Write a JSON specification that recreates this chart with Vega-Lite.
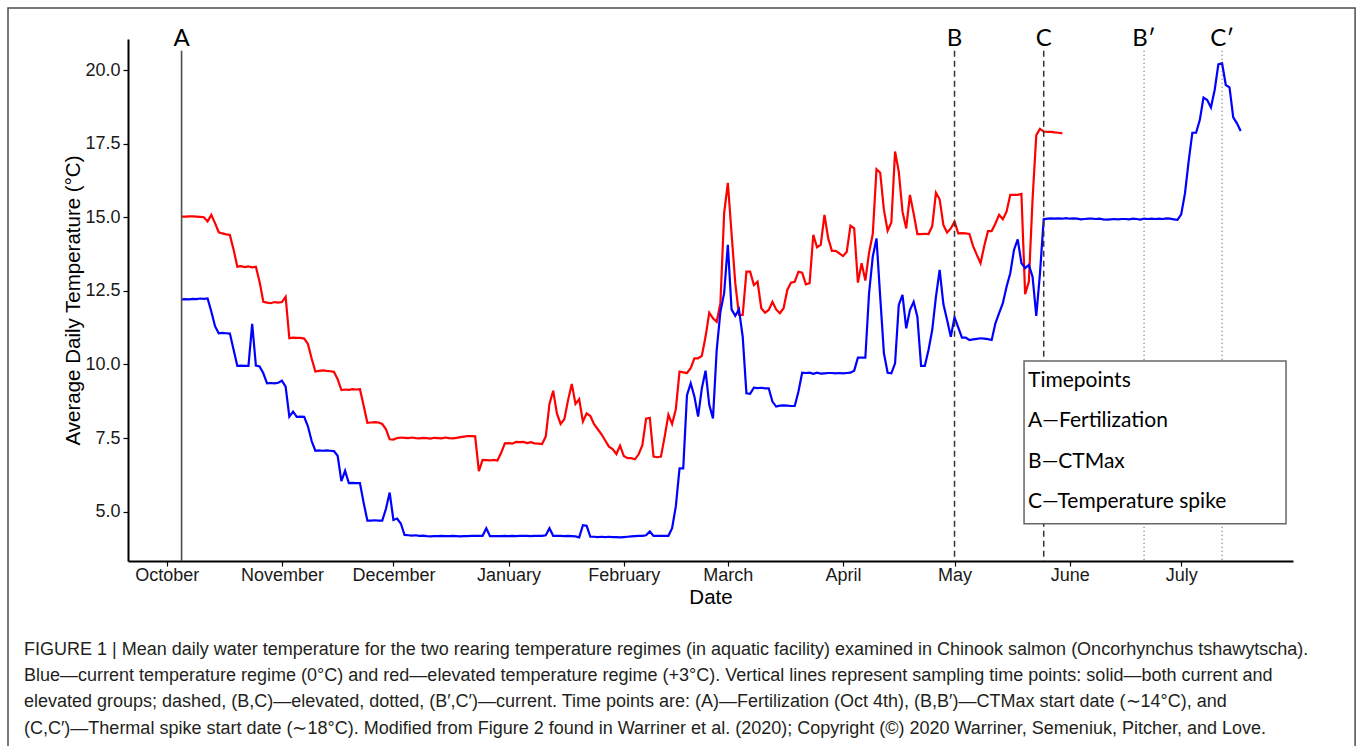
{
  "$schema": "https://vega.github.io/schema/vega-lite/v6.json",
  "width": 1165,
  "height": 522,
  "autosize": {"type": "none"},
  "padding": {"left": 128, "top": 39, "right": 67, "bottom": 185},
  "background": "white",
  "title": {
    "text": [
      "FIGURE 1 | Mean daily water temperature for the two rearing temperature regimes (in aquatic facility) examined in Chinook salmon (Oncorhynchus tshawytscha).",
      "Blue—current temperature regime (0°C) and red—elevated temperature regime (+3°C). Vertical lines represent sampling time points: solid—both current and",
      "elevated groups; dashed, (B,C)—elevated, dotted, (B′,C′)—current. Time points are: (A)—Fertilization (Oct 4th), (B,B′)—CTMax start date (∼14°C), and",
      "(C,C′)—Thermal spike start date (∼18°C). Modified from Figure 2 found in Warriner et al. (2020); Copyright (©) 2020 Warriner, Semeniuk, Pitcher, and Love."
    ],
    "orient": "bottom",
    "anchor": "start",
    "frame": "group",
    "dx": -104,
    "offset": -120,
    "font": "Liberation Sans",
    "fontSize": 18,
    "fontWeight": "normal",
    "color": "#231f20",
    "lineHeight": 26.3
  },
  "datasets": {
    "elevated": [
      {"date":"2017-10-05","temp":15.02},{"date":"2017-10-06","temp":15.02},{"date":"2017-10-07","temp":15.03},{"date":"2017-10-08","temp":15.03},{"date":"2017-10-09","temp":15.02},{"date":"2017-10-10","temp":15.01},{"date":"2017-10-11","temp":15.0},{"date":"2017-10-12","temp":14.86},{"date":"2017-10-13","temp":15.08},{"date":"2017-10-14","temp":14.8},{"date":"2017-10-15","temp":14.49},{"date":"2017-10-16","temp":14.45},{"date":"2017-10-17","temp":14.42},{"date":"2017-10-18","temp":14.4},{"date":"2017-10-19","temp":13.9},{"date":"2017-10-20","temp":13.32},{"date":"2017-10-21","temp":13.34},{"date":"2017-10-22","temp":13.31},{"date":"2017-10-23","temp":13.33},{"date":"2017-10-24","temp":13.3},{"date":"2017-10-25","temp":13.32},{"date":"2017-10-26","temp":12.8},{"date":"2017-10-27","temp":12.13},{"date":"2017-10-28","temp":12.1},{"date":"2017-10-29","temp":12.08},{"date":"2017-10-30","temp":12.12},{"date":"2017-10-31","temp":12.1},
      {"date":"2017-11-01","temp":12.12},{"date":"2017-11-02","temp":12.3},{"date":"2017-11-03","temp":10.89},{"date":"2017-11-04","temp":10.91},{"date":"2017-11-05","temp":10.9},{"date":"2017-11-06","temp":10.9},{"date":"2017-11-07","temp":10.88},{"date":"2017-11-08","temp":10.7},{"date":"2017-11-09","temp":10.2},{"date":"2017-11-10","temp":9.76},{"date":"2017-11-11","temp":9.78},{"date":"2017-11-12","temp":9.8},{"date":"2017-11-13","temp":9.78},{"date":"2017-11-14","temp":9.77},{"date":"2017-11-15","temp":9.75},{"date":"2017-11-16","temp":9.5},{"date":"2017-11-17","temp":9.13},{"date":"2017-11-18","temp":9.15},{"date":"2017-11-19","temp":9.14},{"date":"2017-11-20","temp":9.16},{"date":"2017-11-21","temp":9.15},{"date":"2017-11-22","temp":9.16},{"date":"2017-11-23","temp":8.6},{"date":"2017-11-24","temp":8.02},{"date":"2017-11-25","temp":8.03},{"date":"2017-11-26","temp":8.04},{"date":"2017-11-27","temp":8.03},{"date":"2017-11-28","temp":7.98},{"date":"2017-11-29","temp":7.8},{"date":"2017-11-30","temp":7.46},
      {"date":"2017-12-01","temp":7.45},{"date":"2017-12-02","temp":7.5},{"date":"2017-12-03","temp":7.52},{"date":"2017-12-04","temp":7.51},{"date":"2017-12-05","temp":7.5},{"date":"2017-12-06","temp":7.52},{"date":"2017-12-07","temp":7.5},{"date":"2017-12-08","temp":7.49},{"date":"2017-12-09","temp":7.51},{"date":"2017-12-10","temp":7.5},{"date":"2017-12-11","temp":7.48},{"date":"2017-12-12","temp":7.51},{"date":"2017-12-13","temp":7.5},{"date":"2017-12-14","temp":7.49},{"date":"2017-12-15","temp":7.52},{"date":"2017-12-16","temp":7.5},{"date":"2017-12-17","temp":7.49},{"date":"2017-12-18","temp":7.51},{"date":"2017-12-19","temp":7.53},{"date":"2017-12-20","temp":7.55},{"date":"2017-12-21","temp":7.57},{"date":"2017-12-22","temp":7.57},{"date":"2017-12-23","temp":7.56},{"date":"2017-12-24","temp":6.38},{"date":"2017-12-25","temp":6.76},{"date":"2017-12-26","temp":6.75},{"date":"2017-12-27","temp":6.74},{"date":"2017-12-28","temp":6.76},{"date":"2017-12-29","temp":6.74},{"date":"2017-12-30","temp":7.0},{"date":"2017-12-31","temp":7.32},
      {"date":"2018-01-01","temp":7.33},{"date":"2018-01-02","temp":7.31},{"date":"2018-01-03","temp":7.37},{"date":"2018-01-04","temp":7.36},{"date":"2018-01-05","temp":7.37},{"date":"2018-01-06","temp":7.33},{"date":"2018-01-07","temp":7.36},{"date":"2018-01-08","temp":7.32},{"date":"2018-01-09","temp":7.31},{"date":"2018-01-10","temp":7.3},{"date":"2018-01-11","temp":7.55},{"date":"2018-01-12","temp":8.66},{"date":"2018-01-13","temp":9.11},{"date":"2018-01-14","temp":8.34},{"date":"2018-01-15","temp":7.98},{"date":"2018-01-16","temp":8.14},{"date":"2018-01-17","temp":8.79},{"date":"2018-01-18","temp":9.34},{"date":"2018-01-19","temp":8.66},{"date":"2018-01-20","temp":8.82},{"date":"2018-01-21","temp":8.06},{"date":"2018-01-22","temp":8.34},{"date":"2018-01-23","temp":8.25},{"date":"2018-01-24","temp":7.97},{"date":"2018-01-25","temp":7.8},{"date":"2018-01-26","temp":7.63},{"date":"2018-01-27","temp":7.42},{"date":"2018-01-28","temp":7.21},{"date":"2018-01-29","temp":7.13},{"date":"2018-01-30","temp":6.96},{"date":"2018-01-31","temp":7.24},
      {"date":"2018-02-01","temp":6.89},{"date":"2018-02-02","temp":6.82},{"date":"2018-02-03","temp":6.82},{"date":"2018-02-04","temp":6.78},{"date":"2018-02-05","temp":6.95},{"date":"2018-02-06","temp":7.26},{"date":"2018-02-07","temp":8.16},{"date":"2018-02-08","temp":8.19},{"date":"2018-02-09","temp":6.87},{"date":"2018-02-10","temp":6.85},{"date":"2018-02-11","temp":6.87},{"date":"2018-02-12","temp":7.55},{"date":"2018-02-13","temp":8.29},{"date":"2018-02-14","temp":7.98},{"date":"2018-02-15","temp":8.48},{"date":"2018-02-16","temp":9.76},{"date":"2018-02-17","temp":9.73},{"date":"2018-02-18","temp":9.71},{"date":"2018-02-19","temp":9.87},{"date":"2018-02-20","temp":10.21},{"date":"2018-02-21","temp":10.21},{"date":"2018-02-22","temp":10.29},{"date":"2018-02-23","temp":10.94},{"date":"2018-02-24","temp":11.76},{"date":"2018-02-25","temp":11.57},{"date":"2018-02-26","temp":11.45},{"date":"2018-02-27","temp":12.08},{"date":"2018-02-28","temp":15.13},
      {"date":"2018-03-01","temp":16.17},{"date":"2018-03-02","temp":14.45},{"date":"2018-03-03","temp":12.76},{"date":"2018-03-04","temp":11.68},{"date":"2018-03-05","temp":11.68},{"date":"2018-03-06","temp":13.15},{"date":"2018-03-07","temp":13.15},{"date":"2018-03-08","temp":12.7},{"date":"2018-03-09","temp":12.81},{"date":"2018-03-10","temp":11.91},{"date":"2018-03-11","temp":11.76},{"date":"2018-03-12","temp":11.85},{"date":"2018-03-13","temp":12.13},{"date":"2018-03-14","temp":11.87},{"date":"2018-03-15","temp":11.74},{"date":"2018-03-16","temp":11.91},{"date":"2018-03-17","temp":12.53},{"date":"2018-03-18","temp":12.78},{"date":"2018-03-19","temp":12.81},{"date":"2018-03-20","temp":13.15},{"date":"2018-03-21","temp":13.12},{"date":"2018-03-22","temp":12.72},{"date":"2018-03-23","temp":12.76},{"date":"2018-03-24","temp":14.4},{"date":"2018-03-25","temp":13.98},{"date":"2018-03-26","temp":14.06},{"date":"2018-03-27","temp":15.08},{"date":"2018-03-28","temp":14.29},{"date":"2018-03-29","temp":13.86},{"date":"2018-03-30","temp":13.86},{"date":"2018-03-31","temp":13.77},
      {"date":"2018-04-01","temp":13.68},{"date":"2018-04-02","temp":13.83},{"date":"2018-04-03","temp":14.71},{"date":"2018-04-04","temp":14.62},{"date":"2018-04-05","temp":12.78},{"date":"2018-04-06","temp":13.44},{"date":"2018-04-07","temp":12.85},{"date":"2018-04-08","temp":13.8},{"date":"2018-04-09","temp":14.43},{"date":"2018-04-10","temp":16.63},{"date":"2018-04-11","temp":16.51},{"date":"2018-04-12","temp":15.25},{"date":"2018-04-13","temp":14.54},{"date":"2018-04-14","temp":14.82},{"date":"2018-04-15","temp":17.23},{"date":"2018-04-16","temp":16.55},{"date":"2018-04-17","temp":15.19},{"date":"2018-04-18","temp":14.62},{"date":"2018-04-19","temp":15.76},{"date":"2018-04-20","temp":15.13},{"date":"2018-04-21","temp":14.43},{"date":"2018-04-22","temp":14.43},{"date":"2018-04-23","temp":14.44},{"date":"2018-04-24","temp":14.43},{"date":"2018-04-25","temp":14.7},{"date":"2018-04-26","temp":15.83},{"date":"2018-04-27","temp":15.61},{"date":"2018-04-28","temp":14.74},{"date":"2018-04-29","temp":14.48},{"date":"2018-04-30","temp":14.62},
      {"date":"2018-05-01","temp":14.85},{"date":"2018-05-02","temp":14.45},{"date":"2018-05-03","temp":14.46},{"date":"2018-05-04","temp":14.45},{"date":"2018-05-05","temp":14.43},{"date":"2018-05-06","temp":14.02},{"date":"2018-05-07","temp":13.72},{"date":"2018-05-08","temp":13.44},{"date":"2018-05-09","temp":14.02},{"date":"2018-05-10","temp":14.53},{"date":"2018-05-11","temp":14.53},{"date":"2018-05-12","temp":14.79},{"date":"2018-05-13","temp":15.08},{"date":"2018-05-14","temp":14.93},{"date":"2018-05-15","temp":15.19},{"date":"2018-05-16","temp":15.76},{"date":"2018-05-17","temp":15.76},{"date":"2018-05-18","temp":15.76},{"date":"2018-05-19","temp":15.79},{"date":"2018-05-20","temp":12.39},{"date":"2018-05-21","temp":12.81},{"date":"2018-05-22","temp":15.61},{"date":"2018-05-23","temp":17.79},{"date":"2018-05-24","temp":18.0},{"date":"2018-05-25","temp":17.91},{"date":"2018-05-26","temp":17.9},{"date":"2018-05-27","temp":17.9},{"date":"2018-05-28","temp":17.88},{"date":"2018-05-29","temp":17.87},{"date":"2018-05-30","temp":17.85}
    ],
    "current": [
      {"date":"2017-10-05","temp":12.21},{"date":"2017-10-06","temp":12.22},{"date":"2017-10-07","temp":12.21},{"date":"2017-10-08","temp":12.23},{"date":"2017-10-09","temp":12.22},{"date":"2017-10-10","temp":12.24},{"date":"2017-10-11","temp":12.23},{"date":"2017-10-12","temp":12.24},{"date":"2017-10-13","temp":11.8},{"date":"2017-10-14","temp":11.3},{"date":"2017-10-15","temp":11.06},{"date":"2017-10-16","temp":11.07},{"date":"2017-10-17","temp":11.06},{"date":"2017-10-18","temp":11.05},{"date":"2017-10-19","temp":10.5},{"date":"2017-10-20","temp":9.95},{"date":"2017-10-21","temp":9.96},{"date":"2017-10-22","temp":9.95},{"date":"2017-10-23","temp":9.95},{"date":"2017-10-24","temp":11.38},{"date":"2017-10-25","temp":9.96},{"date":"2017-10-26","temp":9.93},{"date":"2017-10-27","temp":9.7},{"date":"2017-10-28","temp":9.36},{"date":"2017-10-29","temp":9.37},{"date":"2017-10-30","temp":9.36},{"date":"2017-10-31","temp":9.38},
      {"date":"2017-11-01","temp":9.45},{"date":"2017-11-02","temp":9.25},{"date":"2017-11-03","temp":8.23},{"date":"2017-11-04","temp":8.4},{"date":"2017-11-05","temp":8.22},{"date":"2017-11-06","temp":8.23},{"date":"2017-11-07","temp":8.22},{"date":"2017-11-08","temp":7.9},{"date":"2017-11-09","temp":7.4},{"date":"2017-11-10","temp":7.07},{"date":"2017-11-11","temp":7.08},{"date":"2017-11-12","temp":7.07},{"date":"2017-11-13","temp":7.08},{"date":"2017-11-14","temp":7.07},{"date":"2017-11-15","temp":7.06},{"date":"2017-11-16","temp":6.9},{"date":"2017-11-17","temp":6.04},{"date":"2017-11-18","temp":6.39},{"date":"2017-11-19","temp":5.97},{"date":"2017-11-20","temp":5.98},{"date":"2017-11-21","temp":5.97},{"date":"2017-11-22","temp":5.97},{"date":"2017-11-23","temp":5.3},{"date":"2017-11-24","temp":4.7},{"date":"2017-11-25","temp":4.7},{"date":"2017-11-26","temp":4.71},{"date":"2017-11-27","temp":4.7},{"date":"2017-11-28","temp":4.7},{"date":"2017-11-29","temp":5.1},{"date":"2017-11-30","temp":5.65},
      {"date":"2017-12-01","temp":4.72},{"date":"2017-12-02","temp":4.77},{"date":"2017-12-03","temp":4.6},{"date":"2017-12-04","temp":4.21},{"date":"2017-12-05","temp":4.2},{"date":"2017-12-06","temp":4.19},{"date":"2017-12-07","temp":4.2},{"date":"2017-12-08","temp":4.18},{"date":"2017-12-09","temp":4.19},{"date":"2017-12-10","temp":4.17},{"date":"2017-12-11","temp":4.16},{"date":"2017-12-12","temp":4.17},{"date":"2017-12-13","temp":4.17},{"date":"2017-12-14","temp":4.18},{"date":"2017-12-15","temp":4.17},{"date":"2017-12-16","temp":4.17},{"date":"2017-12-17","temp":4.18},{"date":"2017-12-18","temp":4.17},{"date":"2017-12-19","temp":4.16},{"date":"2017-12-20","temp":4.17},{"date":"2017-12-21","temp":4.17},{"date":"2017-12-22","temp":4.18},{"date":"2017-12-23","temp":4.18},{"date":"2017-12-24","temp":4.18},{"date":"2017-12-25","temp":4.18},{"date":"2017-12-26","temp":4.44},{"date":"2017-12-27","temp":4.17},{"date":"2017-12-28","temp":4.17},{"date":"2017-12-29","temp":4.17},{"date":"2017-12-30","temp":4.17},{"date":"2017-12-31","temp":4.18},
      {"date":"2018-01-01","temp":4.17},{"date":"2018-01-02","temp":4.18},{"date":"2018-01-03","temp":4.17},{"date":"2018-01-04","temp":4.18},{"date":"2018-01-05","temp":4.18},{"date":"2018-01-06","temp":4.18},{"date":"2018-01-07","temp":4.17},{"date":"2018-01-08","temp":4.18},{"date":"2018-01-09","temp":4.18},{"date":"2018-01-10","temp":4.18},{"date":"2018-01-11","temp":4.2},{"date":"2018-01-12","temp":4.44},{"date":"2018-01-13","temp":4.18},{"date":"2018-01-14","temp":4.18},{"date":"2018-01-15","temp":4.18},{"date":"2018-01-16","temp":4.17},{"date":"2018-01-17","temp":4.18},{"date":"2018-01-18","temp":4.17},{"date":"2018-01-19","temp":4.16},{"date":"2018-01-20","temp":4.13},{"date":"2018-01-21","temp":4.54},{"date":"2018-01-22","temp":4.52},{"date":"2018-01-23","temp":4.15},{"date":"2018-01-24","temp":4.15},{"date":"2018-01-25","temp":4.14},{"date":"2018-01-26","temp":4.15},{"date":"2018-01-27","temp":4.14},{"date":"2018-01-28","temp":4.15},{"date":"2018-01-29","temp":4.14},{"date":"2018-01-30","temp":4.14},{"date":"2018-01-31","temp":4.13},
      {"date":"2018-02-01","temp":4.14},{"date":"2018-02-02","temp":4.15},{"date":"2018-02-03","temp":4.16},{"date":"2018-02-04","temp":4.17},{"date":"2018-02-05","temp":4.18},{"date":"2018-02-06","temp":4.18},{"date":"2018-02-07","temp":4.2},{"date":"2018-02-08","temp":4.33},{"date":"2018-02-09","temp":4.18},{"date":"2018-02-10","temp":4.18},{"date":"2018-02-11","temp":4.18},{"date":"2018-02-12","temp":4.18},{"date":"2018-02-13","temp":4.18},{"date":"2018-02-14","temp":4.44},{"date":"2018-02-15","temp":5.18},{"date":"2018-02-16","temp":6.47},{"date":"2018-02-17","temp":6.47},{"date":"2018-02-18","temp":8.96},{"date":"2018-02-19","temp":9.36},{"date":"2018-02-20","temp":8.91},{"date":"2018-02-21","temp":8.23},{"date":"2018-02-22","temp":9.19},{"date":"2018-02-23","temp":9.79},{"date":"2018-02-24","temp":8.63},{"date":"2018-02-25","temp":8.17},{"date":"2018-02-26","temp":10.49},{"date":"2018-02-27","temp":11.79},{"date":"2018-02-28","temp":12.42},
      {"date":"2018-03-01","temp":14.06},{"date":"2018-03-02","temp":11.87},{"date":"2018-03-03","temp":11.65},{"date":"2018-03-04","temp":11.87},{"date":"2018-03-05","temp":10.94},{"date":"2018-03-06","temp":9.02},{"date":"2018-03-07","temp":9.0},{"date":"2018-03-08","temp":9.21},{"date":"2018-03-09","temp":9.2},{"date":"2018-03-10","temp":9.21},{"date":"2018-03-11","temp":9.19},{"date":"2018-03-12","temp":9.19},{"date":"2018-03-13","temp":8.74},{"date":"2018-03-14","temp":8.57},{"date":"2018-03-15","temp":8.6},{"date":"2018-03-16","temp":8.61},{"date":"2018-03-17","temp":8.6},{"date":"2018-03-18","temp":8.59},{"date":"2018-03-19","temp":8.59},{"date":"2018-03-20","temp":9.08},{"date":"2018-03-21","temp":9.72},{"date":"2018-03-22","temp":9.71},{"date":"2018-03-23","temp":9.72},{"date":"2018-03-24","temp":9.68},{"date":"2018-03-25","temp":9.72},{"date":"2018-03-26","temp":9.69},{"date":"2018-03-27","temp":9.7},{"date":"2018-03-28","temp":9.71},{"date":"2018-03-29","temp":9.71},{"date":"2018-03-30","temp":9.7},{"date":"2018-03-31","temp":9.71},
      {"date":"2018-04-01","temp":9.7},{"date":"2018-04-02","temp":9.71},{"date":"2018-04-03","temp":9.72},{"date":"2018-04-04","temp":9.79},{"date":"2018-04-05","temp":10.23},{"date":"2018-04-06","temp":10.23},{"date":"2018-04-07","temp":10.23},{"date":"2018-04-08","temp":12.42},{"date":"2018-04-09","temp":13.66},{"date":"2018-04-10","temp":14.28},{"date":"2018-04-11","temp":12.3},{"date":"2018-04-12","temp":10.38},{"date":"2018-04-13","temp":9.72},{"date":"2018-04-14","temp":9.7},{"date":"2018-04-15","temp":10.04},{"date":"2018-04-16","temp":12.02},{"date":"2018-04-17","temp":12.36},{"date":"2018-04-18","temp":11.23},{"date":"2018-04-19","temp":11.85},{"date":"2018-04-20","temp":12.13},{"date":"2018-04-21","temp":11.62},{"date":"2018-04-22","temp":9.95},{"date":"2018-04-23","temp":9.95},{"date":"2018-04-24","temp":10.49},{"date":"2018-04-25","temp":11.17},{"date":"2018-04-26","temp":12.3},{"date":"2018-04-27","temp":13.21},{"date":"2018-04-28","temp":12.05},{"date":"2018-04-29","temp":11.51},{"date":"2018-04-30","temp":10.94},
      {"date":"2018-05-01","temp":11.6},{"date":"2018-05-02","temp":11.26},{"date":"2018-05-03","temp":10.91},{"date":"2018-05-04","temp":10.91},{"date":"2018-05-05","temp":10.83},{"date":"2018-05-06","temp":10.85},{"date":"2018-05-07","temp":10.87},{"date":"2018-05-08","temp":10.89},{"date":"2018-05-09","temp":10.88},{"date":"2018-05-10","temp":10.86},{"date":"2018-05-11","temp":10.83},{"date":"2018-05-12","temp":11.4},{"date":"2018-05-13","temp":11.74},{"date":"2018-05-14","temp":12.08},{"date":"2018-05-15","temp":12.64},{"date":"2018-05-16","temp":13.1},{"date":"2018-05-17","temp":13.89},{"date":"2018-05-18","temp":14.25},{"date":"2018-05-19","temp":13.44},{"date":"2018-05-20","temp":13.27},{"date":"2018-05-21","temp":13.38},{"date":"2018-05-22","temp":12.98},{"date":"2018-05-23","temp":11.65},{"date":"2018-05-24","temp":13.1},{"date":"2018-05-25","temp":14.93},{"date":"2018-05-26","temp":14.95},{"date":"2018-05-27","temp":14.96},{"date":"2018-05-28","temp":14.95},{"date":"2018-05-29","temp":14.96},{"date":"2018-05-30","temp":14.95},{"date":"2018-05-31","temp":14.97},
      {"date":"2018-06-01","temp":14.95},{"date":"2018-06-02","temp":14.96},{"date":"2018-06-03","temp":14.95},{"date":"2018-06-04","temp":14.93},{"date":"2018-06-05","temp":14.94},{"date":"2018-06-06","temp":14.95},{"date":"2018-06-07","temp":14.95},{"date":"2018-06-08","temp":14.94},{"date":"2018-06-09","temp":14.95},{"date":"2018-06-10","temp":14.93},{"date":"2018-06-11","temp":14.92},{"date":"2018-06-12","temp":14.93},{"date":"2018-06-13","temp":14.94},{"date":"2018-06-14","temp":14.93},{"date":"2018-06-15","temp":14.94},{"date":"2018-06-16","temp":14.94},{"date":"2018-06-17","temp":14.93},{"date":"2018-06-18","temp":14.95},{"date":"2018-06-19","temp":14.94},{"date":"2018-06-20","temp":14.92},{"date":"2018-06-21","temp":14.95},{"date":"2018-06-22","temp":14.94},{"date":"2018-06-23","temp":14.95},{"date":"2018-06-24","temp":14.94},{"date":"2018-06-25","temp":14.95},{"date":"2018-06-26","temp":14.94},{"date":"2018-06-27","temp":14.96},{"date":"2018-06-28","temp":14.95},{"date":"2018-06-29","temp":14.93},{"date":"2018-06-30","temp":14.91},
      {"date":"2018-07-01","temp":15.1},{"date":"2018-07-02","temp":15.8},{"date":"2018-07-03","temp":16.9},{"date":"2018-07-04","temp":17.87},{"date":"2018-07-05","temp":17.87},{"date":"2018-07-06","temp":18.3},{"date":"2018-07-07","temp":19.06},{"date":"2018-07-08","temp":18.98},{"date":"2018-07-09","temp":18.73},{"date":"2018-07-10","temp":19.32},{"date":"2018-07-11","temp":20.19},{"date":"2018-07-12","temp":20.23},{"date":"2018-07-13","temp":19.49},{"date":"2018-07-14","temp":19.41},{"date":"2018-07-15","temp":18.39},{"date":"2018-07-16","temp":18.19},{"date":"2018-07-17","temp":17.93}
    ],
    "timepoints": [
      {"date":"2017-10-05","label":"A","kind":"solid"},
      {"date":"2018-05-01","label":"B","kind":"dashed"},
      {"date":"2018-05-25","label":"C","kind":"dashed"},
      {"date":"2018-06-21","label":"B′","kind":"dotted"},
      {"date":"2018-07-12","label":"C′","kind":"dotted"}
    ]
  },
  "layer": [
    {
      "data": {"name": "elevated"},
      "mark": {"type": "line", "color": "#ff0000", "strokeWidth": 2.2, "clip": false},
      "encoding": {
        "x": {
          "field": "date", "type": "temporal", "title": "Date",
          "scale": {"type": "utc", "nice": false,
            "domain": [{"year": 2017, "month": "sep", "date": 20, "hours": 14, "utc": true}, {"year": 2018, "month": "jul", "date": 31, "hours": 2, "utc": true}]},
          "axis": {
            "values": [
              {"year": 2017, "month": "oct", "date": 1, "utc": true},
              {"year": 2017, "month": "nov", "date": 1, "utc": true},
              {"year": 2017, "month": "dec", "date": 1, "utc": true},
              {"year": 2018, "month": "jan", "date": 1, "utc": true},
              {"year": 2018, "month": "feb", "date": 1, "utc": true},
              {"year": 2018, "month": "mar", "date": 1, "utc": true},
              {"year": 2018, "month": "apr", "date": 1, "utc": true},
              {"year": 2018, "month": "may", "date": 1, "utc": true},
              {"year": 2018, "month": "jun", "date": 1, "utc": true},
              {"year": 2018, "month": "jul", "date": 1, "utc": true}
            ],
            "labelExpr": "utcFormat(datum.value, '%B')"
          }
        },
        "y": {
          "field": "temp", "type": "quantitative", "title": "Average Daily Temperature (°C)",
          "scale": {"domain": [3.326, 21.053], "nice": false, "zero": false},
          "axis": {"values": [5, 7.5, 10, 12.5, 15, 17.5, 20], "format": ".1f"}
        }
      }
    },
    {
      "data": {"name": "current"},
      "mark": {"type": "line", "color": "#0000ff", "strokeWidth": 2.2, "clip": false},
      "encoding": {
        "x": {"field": "date", "type": "temporal", "title": "Date"},
        "y": {"field": "temp", "type": "quantitative", "title": "Average Daily Temperature (°C)"}
      }
    },
    {
      "data": {"name": "timepoints"},
      "transform": [{"filter": "datum.kind === 'solid'"}],
      "mark": {"type": "rule", "color": "#4d4d4d", "strokeWidth": 1.6},
      "encoding": {
        "x": {"field": "date", "type": "temporal", "title": "Date"},
        "y": {"datum": 20.65},
        "y2": {"datum": 3.326}
      }
    },
    {
      "data": {"name": "timepoints"},
      "transform": [{"filter": "datum.kind === 'dashed'"}],
      "mark": {"type": "rule", "color": "#333333", "strokeWidth": 1.5, "strokeDash": [6, 4]},
      "encoding": {
        "x": {"field": "date", "type": "temporal", "title": "Date"},
        "y": {"datum": 20.65},
        "y2": {"datum": 3.326}
      }
    },
    {
      "data": {"name": "timepoints"},
      "transform": [{"filter": "datum.kind === 'dotted'"}],
      "mark": {"type": "rule", "color": "#555555", "strokeWidth": 1.1, "strokeDash": [1, 3]},
      "encoding": {
        "x": {"field": "date", "type": "temporal", "title": "Date"},
        "y": {"datum": 20.65},
        "y2": {"datum": 3.326}
      }
    },
    {
      "data": {"name": "timepoints"},
      "mark": {"type": "text", "font": "Lato", "fontSize": 24, "color": "#000000", "align": "center", "baseline": "alphabetic", "clip": false},
      "encoding": {
        "x": {"field": "date", "type": "temporal", "title": "Date"},
        "y": {"datum": 20.81},
        "text": {"field": "label"}
      }
    },
    {
      "data": {"values": [{}]},
      "mark": {"type": "rect", "fill": "white", "stroke": "#666666", "strokeWidth": 1.5},
      "encoding": {
        "x": {"datum": {"year": 2018, "month": "may", "date": 19, "hours": 17, "utc": true}, "type": "temporal"},
        "x2": {"datum": {"year": 2018, "month": "jul", "date": 29, "hours": 5, "utc": true}},
        "y": {"datum": 10.12, "type": "quantitative"},
        "y2": {"datum": 4.59}
      }
    },
    {
      "data": {"values": [{}]},
      "mark": {"type": "text", "font": "Lato", "fontSize": 21, "color": "#000000", "align": "left", "baseline": "top", "lineHeight": 40.3,
        "text": ["Timepoints", "A—Fertilization", "B—CTMax", "C—Temperature spike"]},
      "encoding": {
        "x": {"datum": {"year": 2018, "month": "may", "date": 20, "hours": 19, "utc": true}, "type": "temporal"},
        "y": {"datum": 9.81, "type": "quantitative"}
      }
    },
    {
      "data": {"values": [{}]},
      "mark": {"type": "rect", "filled": false, "stroke": "#4d4d4d", "strokeWidth": 1.5, "clip": false},
      "encoding": {
        "x": {"datum": {"year": 2017, "month": "aug", "date": 19, "hours": 7, "utc": true}, "type": "temporal"},
        "x2": {"datum": {"year": 2018, "month": "aug", "date": 16, "hours": 19, "utc": true}},
        "y": {"datum": 22.105, "type": "quantitative"},
        "y2": {"datum": -3.432}
      }
    }
  ],
  "config": {
    "view": {"stroke": null},
    "axis": {
      "grid": false,
      "domainColor": "#000000",
      "domainWidth": 2,
      "tickColor": "#000000",
      "tickWidth": 1.2,
      "tickSize": 5,
      "labelFont": "Liberation Sans",
      "labelFontSize": 18,
      "labelColor": "#1a1a1a",
      "titleFont": "Liberation Sans",
      "titleFontSize": 20.5,
      "titleFontWeight": "normal",
      "titleColor": "#000000"
    },
    "axisX": {"labelPadding": 0, "titlePadding": 3, "labelFlush": false, "labelOverlap": false},
    "axisY": {"labelPadding": 3, "titlePadding": 1}
  }
}
